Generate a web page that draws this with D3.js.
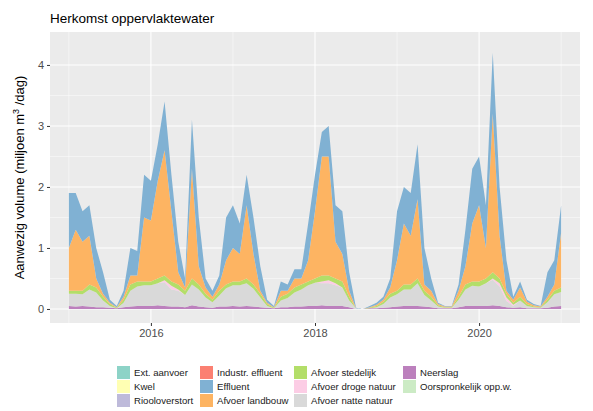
<!DOCTYPE html><html><head><meta charset="utf-8">
<script src="https://cdn.jsdelivr.net/npm/d3@7"></script>
<style>body{margin:0;background:#fff}text{font-family:Arial,"Liberation Sans",sans-serif}</style></head><body>
<svg id="c" width="593" height="411"></svg>
<script>
// monthly readings, 2015-01 .. 2021-01
const topTotal=[1.9,1.9,1.6,1.7,1.0,0.6,0.15,0.05,0.3,1.0,0.95,2.2,
2.1,2.7,3.4,2.2,1.1,0.5,3.1,1.5,0.5,0.3,0.55,1.5,
1.7,1.4,2.2,1.5,0.7,0.15,0.05,0.45,0.4,0.65,0.65,1.4,
2.2,2.9,3.0,1.7,1.6,0.6,0.02,0,0.05,0.1,0.2,0.5,
1.6,2.0,1.9,2.7,1.0,0.5,0.1,0.05,0.05,0.4,1.3,2.3,
2.5,1.7,4.2,2.0,0.8,0.2,0.45,0.15,0.08,0.05,0.6,0.8,1.7];
const topLandbouw=[1.0,1.3,1.1,1.2,0.5,0.25,0.1,0.03,0.2,0.55,0.55,1.5,
1.45,2.1,2.6,1.6,0.6,0.35,2.3,0.7,0.35,0.2,0.4,0.8,
1.0,0.9,1.7,0.9,0.3,0.1,0.03,0.3,0.3,0.5,0.5,0.8,
1.6,2.5,2.5,1.1,0.9,0.3,0.01,0,0.03,0.07,0.15,0.35,
0.8,1.4,1.2,1.8,0.4,0.3,0.08,0.04,0.04,0.3,0.7,1.4,
1.7,1.0,3.2,1.2,0.3,0.15,0.35,0.12,0.06,0.04,0.2,0.4,1.25];
const topStedelijk=[0.3,0.3,0.3,0.4,0.35,0.2,0.08,0.02,0.15,0.4,0.45,0.45,
0.45,0.5,0.55,0.45,0.4,0.3,0.5,0.4,0.25,0.15,0.3,0.4,
0.45,0.45,0.5,0.4,0.25,0.08,0.02,0.2,0.25,0.35,0.4,0.45,
0.5,0.55,0.55,0.5,0.45,0.2,0.01,0,0.02,0.05,0.12,0.25,
0.3,0.4,0.4,0.5,0.3,0.2,0.06,0.03,0.03,0.2,0.4,0.45,
0.45,0.5,0.6,0.5,0.25,0.1,0.2,0.08,0.04,0.03,0.15,0.3,0.35];
const stedelijk=[.05,.05,.06,.08,.08,.06,.03,.01,.05,.1,.08,.06,
.06,.08,.08,.07,.08,.07,.1,.08,.06,.04,.08,.06,
.06,.06,.08,.07,.06,.03,.01,.06,.07,.08,.08,.06,
.07,.1,.08,.08,.1,.06,0,0,.01,.02,.04,.06,
.06,.08,.08,.08,.07,.06,.02,.01,.01,.05,.08,.07,
.08,.08,.1,.08,.06,.03,.06,.03,.01,.01,.04,.06,.07];
const neerslag=[.05,.04,.05,.04,.03,.03,.02,.01,.03,.04,.05,.05,
.05,.06,.05,.04,.04,.03,.06,.04,.03,.02,.04,.04,
.05,.04,.05,.04,.03,.02,.01,.03,.03,.04,.04,.05,
.05,.06,.05,.05,.05,.03,0,0,.01,.01,.02,.03,
.04,.05,.05,.05,.04,.03,.01,.01,.01,.03,.05,.05,
.05,.05,.06,.05,.03,.02,.03,.01,.01,.01,.02,.04,.05];
const drogeNatuur=[0,0,0,0,0,0,0,0,0,0,0,0,
0,0,.03,.06,.02,0,0,0,0,0,0,0,
0,0,0,0,0,0,0,0,0,0,0,0,
0,.03,.05,.03,0,0,0,0,0,0,0,0,
0,0,0,0,0,0,0,0,0,0,0,0,
0,0,.02,.05,.06,.02,0,0,0,0,0,0,0];
const legendLabels=["Ext. aanvoer","Kwel","Riooloverstort","Industr. effluent","Effluent","Afvoer landbouw","Afvoer stedelijk","Afvoer droge natuur","Afvoer natte natuur","Neerslag","Oorspronkelijk opp.w."];
const legendColors=["#8DD3C7","#FFFFB3","#BEBADA","#FB8072","#80B1D3","#FDB462","#B3DE69","#FCCDE5","#D9D9D9","#BC80BD","#CCEBC5"];
const yTicks=[0,1,2,3,4];
const xTicks=[2016,2018,2020];

const rows=topTotal.map((t,i)=>{
  const nat=Math.max(0,topStedelijk[i]-stedelijk[i]-neerslag[i]-drogeNatuur[i]);
  return {t:2015+i/12,neerslag:neerslag[i],natte:nat,droge:drogeNatuur[i],stedelijk:stedelijk[i],
    landbouw:Math.max(0,topLandbouw[i]-topStedelijk[i]),effluent:Math.max(0,t-topLandbouw[i])};
});
const keys=["neerslag","natte","droge","stedelijk","landbouw","effluent"];
const kcol={neerslag:"#BC80BD",natte:"#D9D9D9",droge:"#FCCDE5",stedelijk:"#B3DE69",landbouw:"#FDB462",effluent:"#80B1D3"};
const svg=d3.select("#c");
const L=50,R=580,T=32,B=323;
const x=d3.scaleLinear().domain([2014.77,2021.23]).range([L,R]);
const y=d3.scaleLinear().domain([-0.23,4.54]).range([B,T]);
svg.append("rect").attr("x",L).attr("y",T).attr("width",R-L).attr("height",B-T).attr("fill","#EBEBEB");
[2015,2017,2019,2021].forEach(v=>svg.append("line").attr("x1",x(v)).attr("x2",x(v)).attr("y1",T).attr("y2",B).attr("stroke","#fff").attr("stroke-width",0.5));
[0.5,1.5,2.5,3.5].forEach(v=>svg.append("line").attr("y1",y(v)).attr("y2",y(v)).attr("x1",L).attr("x2",R).attr("stroke","#fff").attr("stroke-width",0.5));
xTicks.forEach(v=>svg.append("line").attr("x1",x(v)).attr("x2",x(v)).attr("y1",T).attr("y2",B).attr("stroke","#fff").attr("stroke-width",1.1));
yTicks.forEach(v=>svg.append("line").attr("y1",y(v)).attr("y2",y(v)).attr("x1",L).attr("x2",R).attr("stroke","#fff").attr("stroke-width",1.1));
const stack=d3.stack().keys(keys)(rows);
const area=d3.area().x(d=>x(d.data.t)).y0(d=>y(d[0])).y1(d=>y(d[1]));
svg.selectAll("path.l").data(stack).join("path").attr("d",area).attr("fill",d=>kcol[d.key]);
const ax=svg.append("g").attr("transform",`translate(0,${B})`).call(d3.axisBottom(x).tickValues(xTicks).tickFormat(d3.format("d")).tickSize(3));
const ay=svg.append("g").attr("transform",`translate(${L},0)`).call(d3.axisLeft(y).tickValues(yTicks).tickFormat(d3.format("d")).tickSize(3));
[ax,ay].forEach(a=>{a.select(".domain").remove();a.selectAll("line").attr("stroke","#333");a.selectAll("text").attr("fill","#4d4d4d").style("font-size","11px").style("font-family","Arial");});
svg.append("text").attr("x",L).attr("y",23).text("Herkomst oppervlaktewater").style("font-size","13.5px").attr("fill","#000");
const yl=svg.append("text").attr("transform",`translate(24,${(T+B)/2}) rotate(-90)`).attr("text-anchor","middle").style("font-size","13px");
yl.append("tspan").text("Aanwezig volume (miljoen m");
yl.append("tspan").text("3").attr("dy",-5).style("font-size","9px");
yl.append("tspan").text(" /dag)").attr("dy",5);
const colX=[117,200,294,403];
legendLabels.forEach((lab,i)=>{
  const c=Math.floor(i/3),r=i%3;
  const g=svg.append("g").attr("transform",`translate(${colX[c]},${366+r*14})`);
  g.append("rect").attr("width",13).attr("height",13).attr("fill",legendColors[i]);
  g.append("text").attr("x",17).attr("y",10).text(lab).style("font-size","9.6px").attr("fill","#1a1a1a");
});
</script></body></html>
